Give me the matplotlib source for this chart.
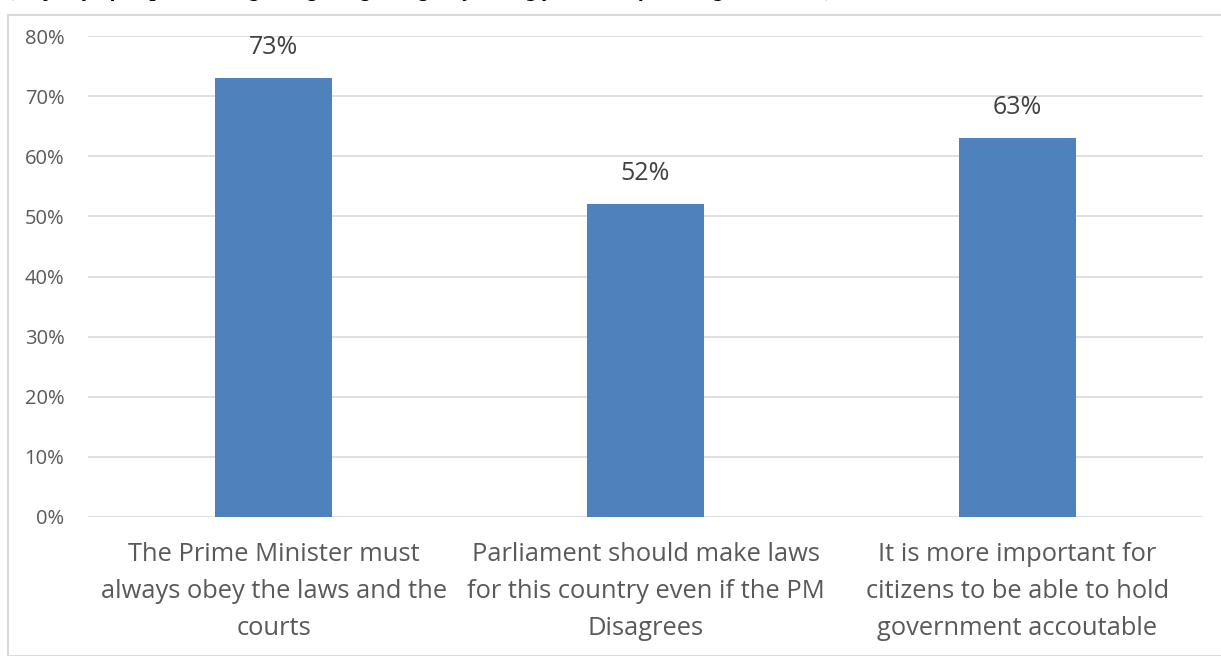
import matplotlib
matplotlib.use("Agg")
import matplotlib.pyplot as plt
from matplotlib.patches import Rectangle
from matplotlib.ticker import FuncFormatter, MultipleLocator

categories = [
    "The Prime Minister must\nalways obey the laws and the\ncourts",
    "Parliament should make laws\nfor this country even if the PM\nDisagrees",
    "It is more important for\ncitizens to be able to hold\ngovernment accoutable",
]
values = [73, 52, 63]
title = "(Majority of respondents agreeing or agreeing very strongly with the following statements)"

W, H = 1221, 656
fig = plt.figure(figsize=(W / 100, H / 100), dpi=100)
fig.patch.set_facecolor("white")

# chart border
fig.patches.append(Rectangle((8 / W, 0), 1.2, 1 - 15 / H, transform=fig.transFigure,
                             fill=False, edgecolor="#D9D9D9", linewidth=1.5))

# title, cut off at the top as in the reference
fig.text(8 / W, 1 + 8.6 / H, title,
         family="Liberation Serif", fontweight="bold", fontstyle="italic", fontsize=16,
         ha="left", va="center", color="black")

ax = fig.add_axes([88 / W, 1 - 517 / H, (1203 - 88) / W, (517 - 36) / H])
x = range(len(values))
ax.bar(x, values, width=0.315, color="#4F81BD", zorder=3)
for xi, v in zip(x, values):
    ax.annotate(f"{v}%", (xi, v), xytext=(0, 13), textcoords="offset points",
                ha="center", va="bottom", fontsize=18, color="#404040", family="Open Sans")

ax.set_xlim(-0.5, len(values) - 0.5)
ax.set_ylim(0, 80)
ax.yaxis.set_major_locator(MultipleLocator(10))
ax.yaxis.set_major_formatter(FuncFormatter(lambda v, p: f"{v:.0f}%"))
ax.grid(axis="y", color="#D9D9D9", linewidth=1.2, zorder=0)
for s in ax.spines.values():
    s.set_visible(False)
ax.tick_params(axis="y", length=0, pad=17, labelsize=14.5, labelcolor="#595959")
ax.tick_params(axis="x", length=0, pad=18, labelsize=18.4, labelcolor="#595959")
ax.set_xticks(list(x))
ax.set_xticklabels(categories, linespacing=1.62)
for lab in ax.get_xticklabels() + ax.get_yticklabels():
    lab.set_family("Open Sans")

fig.savefig("out.png", dpi=100)
